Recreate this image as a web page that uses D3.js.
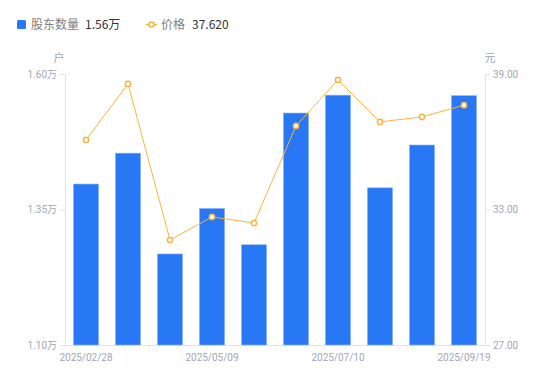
<!DOCTYPE html>
<html>
<head>
<meta charset="utf-8">
<script src="https://cdn.jsdelivr.net/npm/d3@7"></script>
<style>
  body { margin: 0; background: #fff; }
  svg { font-family: "Noto Sans CJK SC", "Noto Sans", sans-serif; }
</style>
</head>
<body>
<svg id="chart" width="550" height="381"></svg>
<script>
// shareholder count (万户) and close price (元) per report date
var dates = ["2025/02/28", "2025/03/20", "2025/04/10", "2025/05/09", "2025/05/30",
             "2025/06/20", "2025/07/10", "2025/08/08", "2025/08/29", "2025/09/19"];
var holders = [1.397, 1.454, 1.268, 1.352, 1.285, 1.528, 1.561, 1.390, 1.469, 1.560];
var prices = [36.08, 38.56, 31.65, 32.67, 32.40, 36.70, 38.74, 36.88, 37.10, 37.62];
var leftTicks = [1.10, 1.35, 1.60];
var rightTicks = [27, 33, 39];
var shownDates = ["2025/02/28", "2025/05/09", "2025/07/10", "2025/09/19"];

var barColor = "#2878f5";
var lineColor = "#f8b53e";
var axisColor = "#e3e3e3";
var labelColor = "#a3a6b4";

var svg = d3.select("#chart");
// note: "top" is taken by window.top, so plot edges get their own names
var plotLeft = 65, plotRight = 485, plotTop = 74, plotBottom = 345;

var x = d3.scaleBand().domain(dates).range([plotLeft, plotRight]).paddingInner(0.4).paddingOuter(0.2);
var yL = d3.scaleLinear().domain([1.10, 1.60]).range([plotBottom, plotTop]);
var yR = d3.scaleLinear().domain([27, 39]).range([plotBottom, plotTop]);

// axes
var axL = svg.append("g").attr("transform", "translate(" + plotLeft + ",0)")
  .call(d3.axisLeft(yL).tickValues(leftTicks).tickSize(5).tickPadding(3)
    .tickFormat(function(d){ return d3.format(".2f")(d) + "万"; }));
var axR = svg.append("g").attr("transform", "translate(" + plotRight + ",0)")
  .call(d3.axisRight(yR).tickValues(rightTicks).tickSize(5).tickPadding(3)
    .tickFormat(d3.format(".2f")));
var axB = svg.append("g").attr("transform", "translate(0," + plotBottom + ")")
  .call(d3.axisBottom(x).tickValues(shownDates).tickSize(0).tickPadding(9));

[axL, axR, axB].forEach(function(a){
  a.select(".domain").attr("stroke", axisColor);
  a.selectAll(".tick line").attr("stroke", axisColor);
  a.selectAll("text").attr("fill", labelColor).style("font-size", "10px")
    .style("font-family", "Roboto, 'Noto Sans CJK SC', sans-serif");
});
axB.select(".domain").attr("d", "M" + (plotLeft - 5) + ",0.5H" + (plotRight + 5));

// unit labels
svg.append("text").attr("x", 59).attr("y", 62).attr("text-anchor", "middle")
  .attr("fill", labelColor).style("font-size", "11px").text("户");
svg.append("text").attr("x", 490).attr("y", 62).attr("text-anchor", "middle")
  .attr("fill", labelColor).style("font-size", "11px").text("元");

// bars
svg.append("g").selectAll("rect")
  .data(dates)
  .enter().append("rect")
    .attr("x", function(d){ return x(d); })
    .attr("width", x.bandwidth())
    .attr("y", function(d, i){ return yL(holders[i]); })
    .attr("height", function(d, i){ return plotBottom - yL(holders[i]); })
    .attr("fill", barColor)
    .attr("stroke", "#8fb6f7")
    .attr("stroke-width", 0.6);

// price line
var line = d3.line()
  .x(function(d, i){ return x(dates[i]) + x.bandwidth() / 2; })
  .y(function(d){ return yR(d); });

svg.append("path").datum(prices)
  .attr("d", line)
  .attr("fill", "none")
  .attr("stroke", lineColor)
  .attr("stroke-width", 1);

svg.append("g").selectAll("circle")
  .data(prices)
  .enter().append("circle")
    .attr("cx", function(d, i){ return x(dates[i]) + x.bandwidth() / 2; })
    .attr("cy", function(d){ return yR(d); })
    .attr("r", 2.6)
    .attr("fill", "#fff")
    .attr("stroke", lineColor)
    .attr("stroke-width", 1.5);

// legend
var lg = svg.append("g").style("font-size", "12px");
lg.append("rect").attr("x", 17).attr("y", 20).attr("width", 9).attr("height", 9)
  .attr("rx", 1.5).attr("fill", barColor);
lg.append("text").attr("x", 31).attr("y", 29).attr("fill", "#808080").text("股东数量");
lg.append("text").attr("x", 85).attr("y", 29).attr("fill", "#333")
  .text(holders[holders.length - 1].toFixed(2) + "万");
lg.append("line").attr("x1", 146).attr("x2", 157).attr("y1", 24.5).attr("y2", 24.5)
  .attr("stroke", lineColor).attr("stroke-width", 1.5);
lg.append("circle").attr("cx", 151.5).attr("cy", 24.5).attr("r", 2.5)
  .attr("fill", "#fff").attr("stroke", lineColor).attr("stroke-width", 1.5);
lg.append("text").attr("x", 161).attr("y", 29).attr("fill", "#808080").text("价格");
lg.append("text").attr("x", 192).attr("y", 29).attr("fill", "#333")
  .text(prices[prices.length - 1].toFixed(3));
</script>
</body>
</html>
